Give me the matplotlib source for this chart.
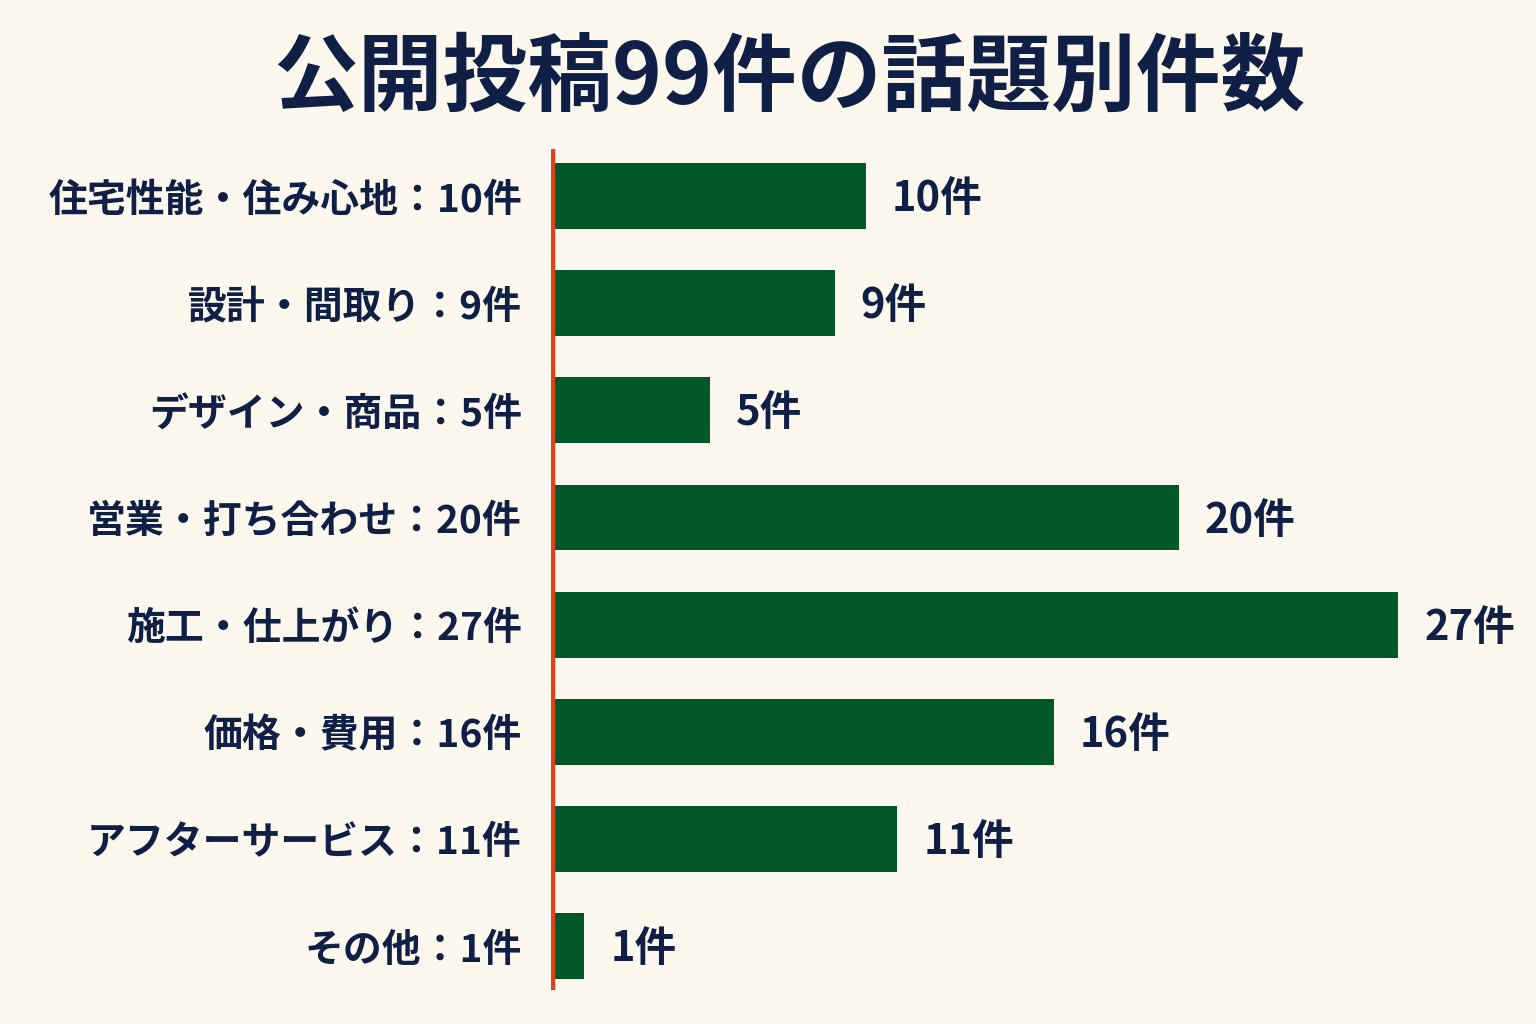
import matplotlib
matplotlib.use("Agg")
import matplotlib.pyplot as plt
from matplotlib.transforms import offset_copy

plt.rcParams['font.family'] = ['Noto Sans CJK JP', 'DejaVu Sans']

title = "公開投稿99件の話題別件数"
categories = ["住宅性能・住み心地", "設計・間取り", "デザイン・商品", "営業・打ち合わせ",
              "施工・仕上がり", "価格・費用", "アフターサービス", "その他"]
counts = [10, 9, 5, 20, 27, 16, 11, 1]

BG = "#FCF8EE"
NAVY = "#0F1F45"
GREEN = "#00582A"
RED = "#E0401A"

W, H = 1536, 1024
fig = plt.figure(figsize=(W / 100, H / 100), dpi=100, facecolor=BG)

ax_left_px, ax_top_px, ax_bot_px = 551, 149, 990
ax = fig.add_axes([ax_left_px / W, (H - ax_bot_px) / H,
                   (W - ax_left_px) / W, (ax_bot_px - ax_top_px) / H])
ax.set_facecolor(BG)

ypos = list(range(len(categories)))
ax.barh(ypos, counts, height=0.615, color=GREEN, zorder=2)

px_per_unit = 31.3
ax.set_xlim(-2 / px_per_unit, (W - ax_left_px - 2) / px_per_unit)
ax.set_ylim(7.41, -0.44)

for s in ["top", "right", "bottom", "left"]:
    ax.spines[s].set_visible(False)
ax.axvline(0, color=RED, linewidth=3.2, zorder=3)

ax.set_xticks([])
ax.set_yticks(ypos)
ax.set_yticklabels([f"{c}：{v}件" for c, v in zip(categories, counts)],
                   fontsize=28, fontweight='bold', color=NAVY)
ax.tick_params(axis='y', length=0, pad=21)

trans = offset_copy(ax.transData, fig=fig, x=0, y=-3, units='dots')
for y, v in zip(ypos, counts):
    ax.text(v + 0.83, y, f"{v}件", va='center', ha='left', fontsize=30,
            fontweight='bold', color=NAVY, transform=trans)

fig.text(789 / W, 1 - 78 / H, title, ha='center', va='center', fontsize=61,
         fontweight='bold', color=NAVY)

fig.savefig("out.png", dpi=100, facecolor=BG)
